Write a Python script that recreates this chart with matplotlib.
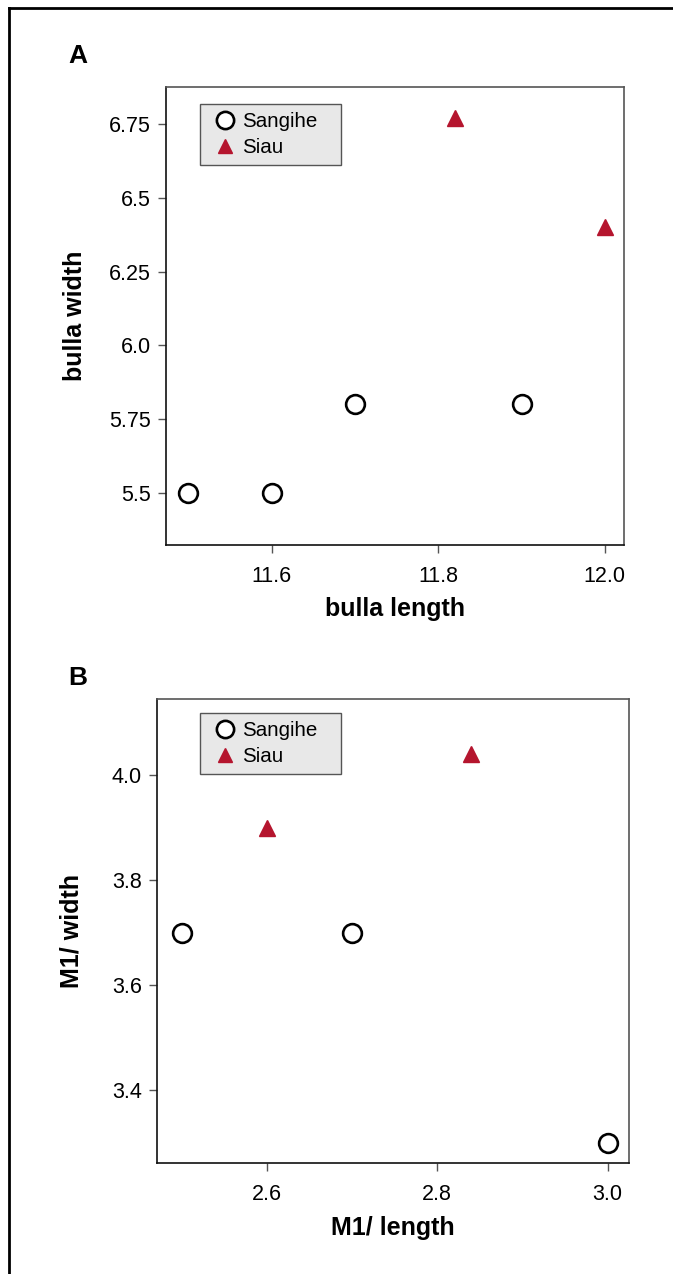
import matplotlib
matplotlib.use("Agg")
import matplotlib.pyplot as plt
from matplotlib.lines import Line2D

plt.rcParams['font.family'] = ['Liberation Sans', 'DejaVu Sans']

# panel A: bulla
a_sang_x = [11.5, 11.6, 11.7, 11.9]
a_sang_y = [5.5, 5.5, 5.8, 5.8]
a_siau_x = [11.82, 12.0]
a_siau_y = [6.77, 6.4]
a_xticks = [11.6, 11.8, 12.0]
a_yticks = [5.5, 5.75, 6.0, 6.25, 6.5, 6.75]
a_yticklabels = ['5.5', '5.75', '6.0', '6.25', '6.5', '6.75']

# panel B: M1
b_sang_x = [2.5, 2.7, 3.0]
b_sang_y = [3.7, 3.7, 3.3]
b_siau_x = [2.6, 2.84]
b_siau_y = [3.9, 4.04]
b_xticks = [2.6, 2.8, 3.0]
b_yticks = [3.4, 3.6, 3.8, 4.0]

W, H = 673, 1274
fig = plt.figure(figsize=(W / 100, H / 100), dpi=100)

red = '#b5152e'


def px_axes(l, t, r, b):
    return fig.add_axes([l / W, 1 - b / H, (r - l) / W, (b - t) / H])


def style(ax):
    for s in ['left', 'bottom']:
        ax.spines[s].set_color('#111111')
    for s in ['top', 'right']:
        ax.spines[s].set_color('#555555')
    for s in ax.spines.values():
        s.set_linewidth(1.2)
    ax.tick_params(direction='out', length=6, width=1.0, color='#555555',
                   labelsize=15.5)
    ax.tick_params(axis='x', pad=9)
    ax.tick_params(axis='y', pad=5)


def panel(ax, sx, sy, tx, ty, box):
    # box = (left, top, right, bottom) of the legend in pixels, axes origin
    l, t, r, b = box
    ax.plot(sx, sy, 'o', ms=13.5, mfc='white', mec='black', mew=1.9,
            linestyle='none', label='Sangihe')
    ax.plot(tx, ty, '^', ms=11.5, color=red, linestyle='none', label='Siau')
    bb = ax.get_window_extent()
    aw, ah = bb.width, bb.height
    anchor = (l / aw, 1 - b / ah, (r - l) / aw, (b - t) / ah)
    leg = ax.legend(loc='upper left', bbox_to_anchor=anchor, mode='expand',
                    frameon=True, fancybox=False,
                    facecolor='#e8e8e8', edgecolor='#555555', framealpha=1,
                    fontsize=14.8, handlelength=1.65, handletextpad=0.0,
                    borderpad=0.4, labelspacing=0.34, borderaxespad=0,
                    markerscale=0.92)
    leg.get_frame().set_linewidth(1.0)
    return leg


# Panel A
ax1 = px_axes(166, 87, 624, 545)
style(ax1)
panel(ax1, a_sang_x, a_sang_y, a_siau_x, a_siau_y, (34, 17, 175, 78))
ax1.set_xlim(11.473, 12.023)
ax1.set_ylim(5.324, 6.875)
ax1.set_xticks(a_xticks)
ax1.set_xticklabels(['%.1f' % v for v in a_xticks])
ax1.set_yticks(a_yticks)
ax1.set_yticklabels(a_yticklabels)
ax1.set_xlabel('bulla length', fontsize=18, fontweight='bold', labelpad=7)
ax1.set_ylabel('bulla width', fontsize=18, fontweight='bold', labelpad=16)

# Panel B
ax2 = px_axes(157, 699, 629, 1163)
style(ax2)
panel(ax2, b_sang_x, b_sang_y, b_siau_x, b_siau_y, (43, 14, 184, 75))
ax2.set_xlim(2.471, 3.025)
ax2.set_ylim(3.261, 4.145)
ax2.set_xticks(b_xticks)
ax2.set_xticklabels(['%.1f' % v for v in b_xticks])
ax2.set_yticks(b_yticks)
ax2.set_yticklabels(['%.1f' % v for v in b_yticks])
ax2.set_xlabel('M1/ length', fontsize=18, fontweight='bold', labelpad=8)
ax2.set_ylabel('M1/ width', fontsize=18, fontweight='bold', labelpad=20)

# panel letters
fig.text(68 / W, 1 - 56 / H, 'A', fontsize=19, fontweight='bold', va='center')
fig.text(68 / W, 1 - 678 / H, 'B', fontsize=19, fontweight='bold', va='center')

# outer frame (left and top edges)
fig.add_artist(Line2D([9 / W, 9 / W], [0, 1 - 8 / H], color='black', lw=2,
                      transform=fig.transFigure))
fig.add_artist(Line2D([9 / W, 1], [1 - 8 / H, 1 - 8 / H], color='black', lw=2,
                      transform=fig.transFigure))

fig.savefig('out.png', dpi=100)
